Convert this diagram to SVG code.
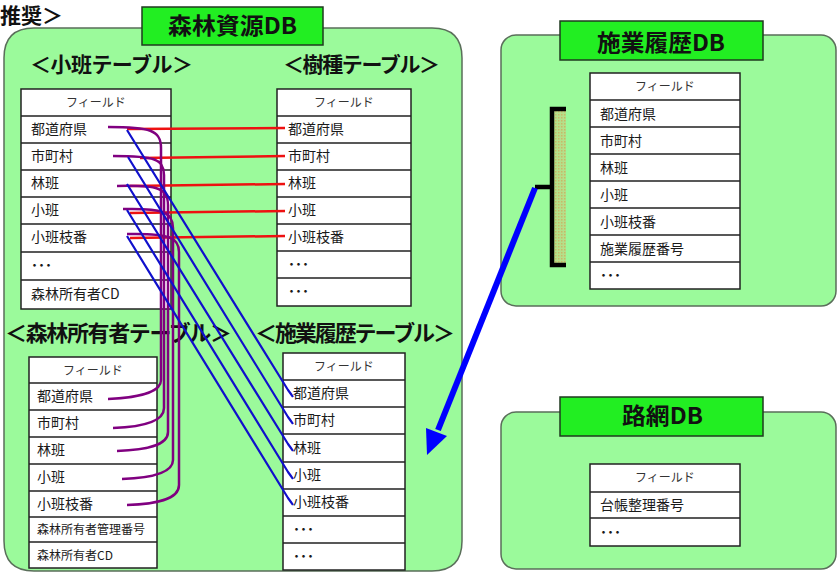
<svg xmlns="http://www.w3.org/2000/svg" width="838" height="573" viewBox="0 0 838 573">
<defs>
<style>
text{font-family:"Noto Sans CJK JP","Noto Sans",sans-serif;fill:#1a1a1a}
.ctr{fill:#9bfa9b;stroke:#5a6e5a;stroke-width:1.5}
.ttl rect{fill:#22ee22;stroke:#1f3a1f;stroke-width:1.5}
.ttl text{font-size:23px;font-weight:bold;text-anchor:middle;fill:#111}
.tbl rect{fill:#fff;stroke:#222;stroke-width:1.5}
.tbl path{stroke:#222;stroke-width:1.5;fill:none}
.hd{font-size:12px;text-anchor:middle;fill:#333}
.c{font-size:14px}
.d{font-size:14px;font-weight:bold}
.s{font-size:12px}
.head{font-size:21px;font-weight:bold;fill:#111}
.r{stroke:#ee1111;stroke-width:2.5;fill:none}
.p{stroke:#800080;stroke-width:2.5;fill:none}
.b{stroke:#1010cc;stroke-width:2.2;fill:none}
</style>
<pattern id="dots" width="3" height="3" patternUnits="userSpaceOnUse">
<rect width="3" height="3" fill="#b4e08a"/>
<rect width="1.5" height="1.5" fill="#c8b868"/>
</pattern>
</defs>

<text x="0" y="23" style="font-size:21px;font-weight:bold;fill:#111">推奨＞</text>

<g id="db-shinrin">
<path class="ctr" d="M34,28 H432 Q462,28 462,58 V541 Q462,571 432,571 H34 Q4,571 4,541 V58 Q4,28 34,28 Z"/>
<g class="ttl"><rect x="142" y="7" width="181" height="38"/><text x="232.5" y="34" textLength="129" lengthAdjust="spacingAndGlyphs">森林資源DB</text></g>
<text class="head" x="30" y="72" textLength="163">＜小班テーブル＞</text>
<text class="head" x="283" y="72" textLength="157">＜樹種テーブル＞</text>
<text class="head" x="5" y="341" textLength="227" style="font-size:22px">＜森林所有者テーブル＞</text>
<text class="head" x="255" y="341" textLength="200" style="font-size:22px">＜施業履歴テーブル＞</text>
</g>

<g id="db-sekyo">
<rect class="ctr" x="501" y="35" width="335" height="271" rx="15"/>
<g class="ttl"><rect x="560" y="21" width="203" height="39"/><text x="661" y="51" textLength="128" lengthAdjust="spacingAndGlyphs">施業履歴DB</text></g>
</g>

<g id="db-romo">
<rect class="ctr" x="501" y="412" width="335" height="157" rx="15"/>
<g class="ttl"><rect x="560" y="397" width="203" height="39"/><text x="662.5" y="424" textLength="81" lengthAdjust="spacingAndGlyphs">路網DB</text></g>
</g>

<g id="tbl-shohan" class="tbl">
<rect x="21" y="89" width="150" height="220"/>
<path d="M21,116H171M21,143H171M21,170H171M21,197H171M21,224H171M21,252H171M21,280H171"/>
<text class="hd" x="96" y="107">フィールド</text>
<text class="c" x="31" y="134">都道府県</text>
<text class="c" x="31" y="161">市町村</text>
<text class="c" x="31" y="188">林班</text>
<text class="c" x="31" y="215">小班</text>
<text class="c" x="31" y="242">小班枝番</text>
<text class="d" x="31" y="270">･･･</text>
<text class="c" x="31" y="299">森林所有者CD</text>
</g>

<g id="tbl-jushu" class="tbl">
<rect x="277" y="89" width="134" height="217"/>
<path d="M277,116H411M277,143H411M277,170H411M277,197H411M277,224H411M277,251H411M277,278H411"/>
<text class="hd" x="344" y="107">フィールド</text>
<text class="c" x="288" y="134">都道府県</text>
<text class="c" x="288" y="161">市町村</text>
<text class="c" x="288" y="188">林班</text>
<text class="c" x="288" y="215">小班</text>
<text class="c" x="288" y="242">小班枝番</text>
<text class="d" x="288" y="269">･･･</text>
<text class="d" x="288" y="296">･･･</text>
</g>

<g id="tbl-shoyusha" class="tbl">
<rect x="29" y="357" width="128" height="211"/>
<path d="M29,383H157M29,410H157M29,437H157M29,464H157M29,491H157M29,517H157M29,542H157"/>
<text class="hd" x="93" y="375">フィールド</text>
<text class="c" x="37" y="401">都道府県</text>
<text class="c" x="37" y="428">市町村</text>
<text class="c" x="37" y="455">林班</text>
<text class="c" x="37" y="482">小班</text>
<text class="c" x="37" y="509">小班枝番</text>
<text class="s" x="37" y="534">森林所有者管理番号</text>
<text class="s" x="37" y="560">森林所有者CD</text>
</g>

<g id="tbl-sekyorireki" class="tbl">
<rect x="283" y="353" width="122" height="217"/>
<path d="M283,380H405M283,407H405M283,434H405M283,462H405M283,489H405M283,516H405M283,543H405"/>
<text class="hd" x="344" y="371">フィールド</text>
<text class="c" x="293" y="398">都道府県</text>
<text class="c" x="293" y="425">市町村</text>
<text class="c" x="293" y="453">林班</text>
<text class="c" x="293" y="480">小班</text>
<text class="c" x="293" y="507">小班枝番</text>
<text class="d" x="293" y="534">･･･</text>
<text class="d" x="293" y="561">･･･</text>
</g>

<g id="tbl-sekyodb" class="tbl">
<rect x="590" y="73" width="150" height="216"/>
<path d="M590,100H740M590,127H740M590,154H740M590,181H740M590,208H740M590,235H740M590,262H740"/>
<text class="hd" x="665" y="91">フィールド</text>
<text class="c" x="600" y="119">都道府県</text>
<text class="c" x="600" y="146">市町村</text>
<text class="c" x="600" y="173">林班</text>
<text class="c" x="600" y="200">小班</text>
<text class="c" x="600" y="227">小班枝番</text>
<text class="c" x="600" y="254">施業履歴番号</text>
<text class="d" x="600" y="280">･･･</text>
</g>

<g id="tbl-romo" class="tbl">
<rect x="590" y="464" width="150" height="82"/>
<path d="M590,492H740M590,518H740"/>
<text class="hd" x="665" y="482">フィールド</text>
<text class="c" x="600" y="510">台帳整理番号</text>
<text class="d" x="600" y="537">･･･</text>
</g>

<g id="bracket">
<rect x="552" y="109" width="14" height="156" fill="url(#dots)"/>
<path d="M566,109H552V265H566M535,187H552" fill="none" stroke="#000" stroke-width="4.5"/>
</g>

<g id="connectors">
<path class="r" d="M127,129L285,128M140,158L285,156M130,186L285,184M130,213L285,211M130,238L285,236"/>
<path class="p" d="M108,127C150,127 161,130 161,148L161,380C161,393 135,398 108,399"/>
<path class="p" d="M113,156C155,156 164,159 164,175L164,408C164,422 140,427 113,428"/>
<path class="p" d="M117,186C158,185 168,188 168,205L168,432C168,446 145,450 117,451"/>
<path class="p" d="M123,209C163,208 173,212 173,228L173,460C173,473 150,478 122,479"/>
<path class="p" d="M127,234C170,233 179,238 179,252L179,485C179,500 155,504 127,505"/>
<path class="b" d="M127,130L288,390Q291,394 293,397"/>
<path class="b" d="M128,157L288,417Q291,421 293,424"/>
<path class="b" d="M127,184L288,444Q291,448 293,451"/>
<path class="b" d="M127,210L288,472Q291,476 293,479"/>
<path class="b" d="M127,236L288,498Q291,502 293,505"/>
<path d="M535,188L438,430" stroke="#0000ff" stroke-width="6" fill="none"/>
<polygon points="427,455 426,428 447,436" fill="#0000ff"/>
</g>
</svg>
